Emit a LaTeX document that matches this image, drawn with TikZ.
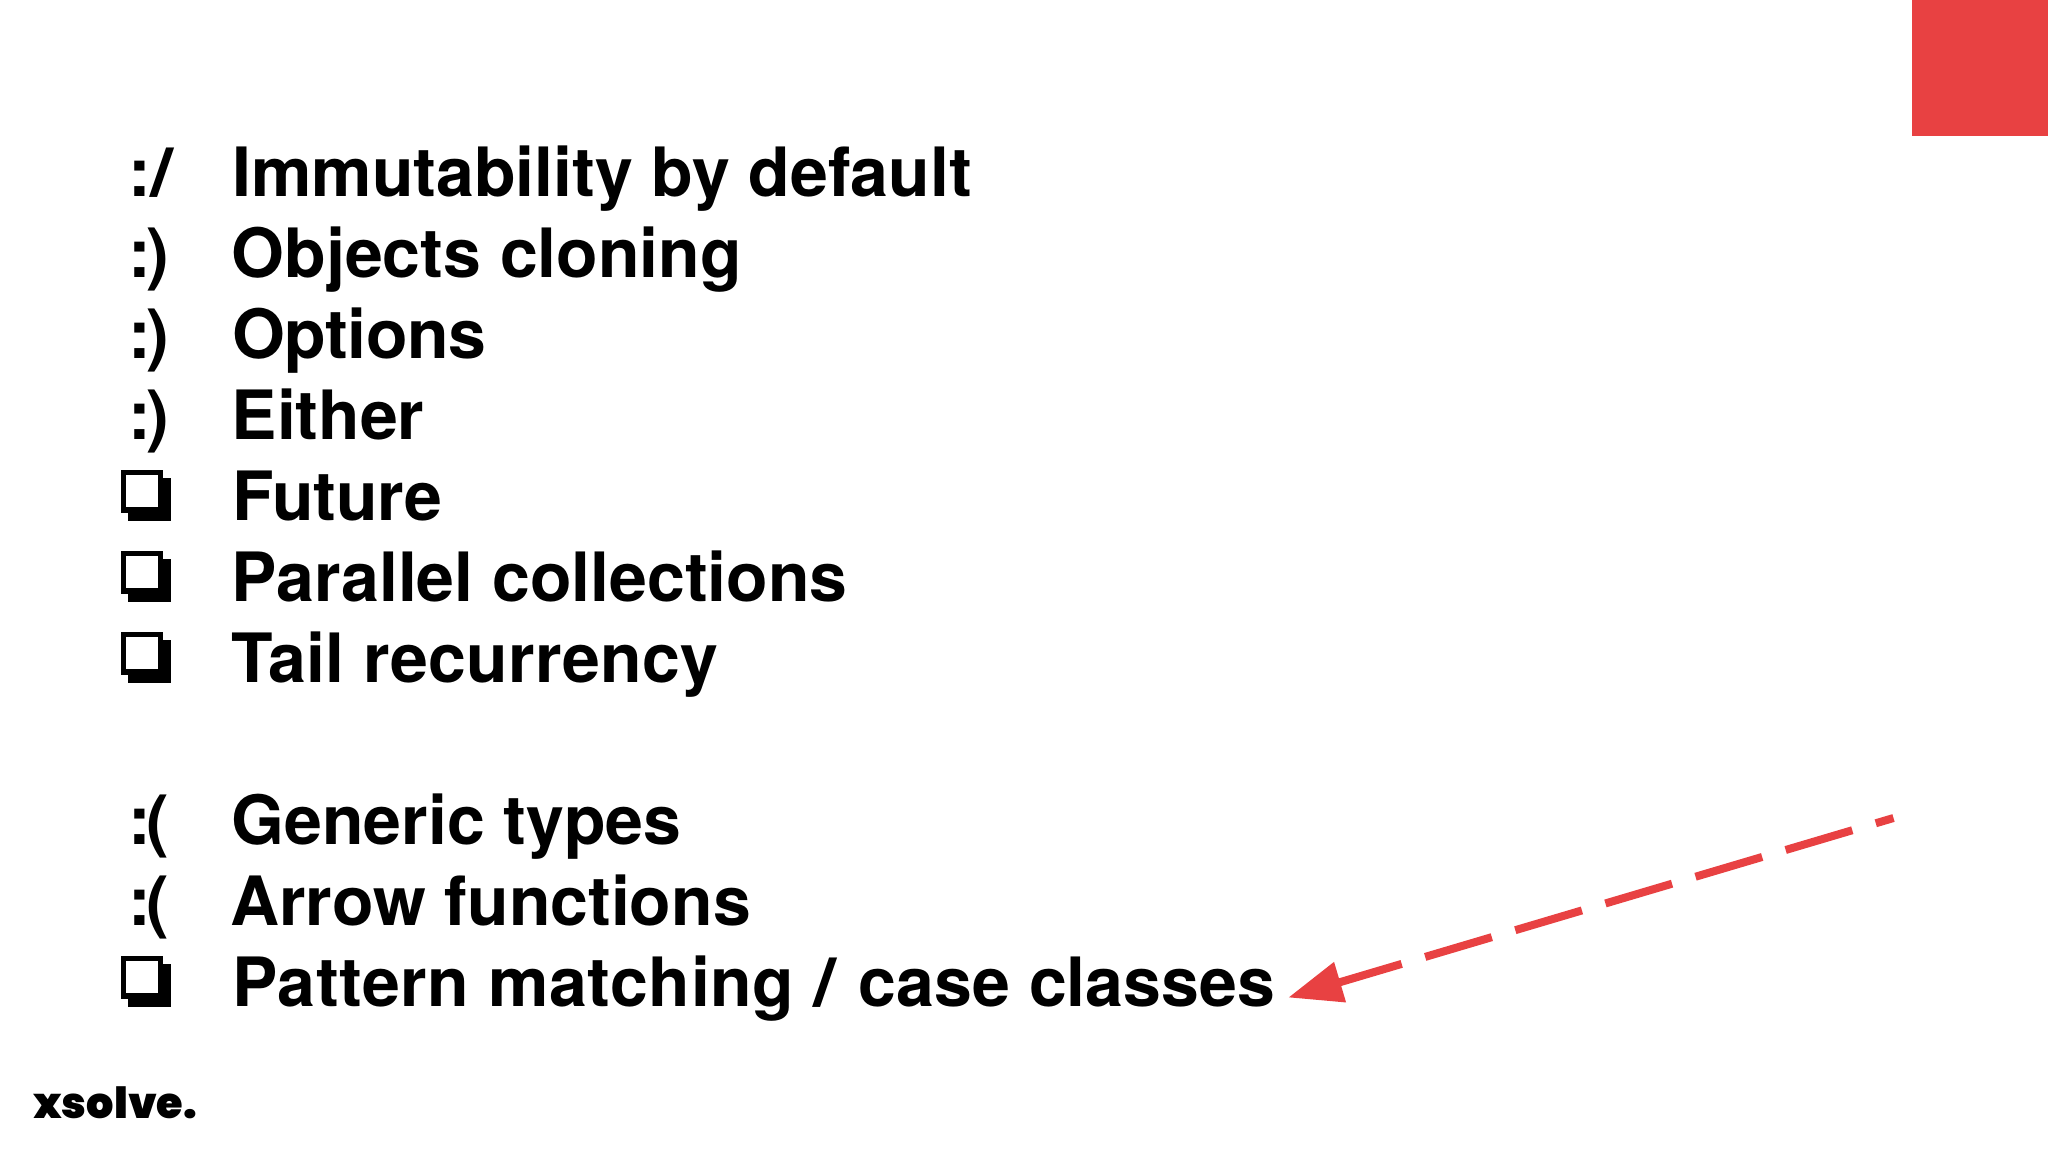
\documentclass[tikz,border=0pt]{standalone}
\usepackage{fontspec}
\setmainfont{TeX Gyre Heros}[BoldFont={TeX Gyre Heros Bold}]
\newfontfamily\logofont{Poppins Black}
\definecolor{accent}{HTML}{E84142}
\usetikzlibrary{arrows.meta}
\newcommand\wideslash{\scalebox{1.22}[1]{/}}
\newcommand\faceHappy{:\kern-4pt)}
\newcommand\faceSad{:\kern-4pt(}
\newcommand\faceFlat{:\wideslash}
\newcommand\track[2]{{\addfontfeature{LetterSpace=#1}#2}}
\tikzset{
 item/.style={anchor=base west,inner sep=0pt,font=\fontsize{68}{80}\selectfont\bfseries,text=black},
 pointer/.style={draw=accent,line width=8pt,dash pattern=on 69.5pt off 24.5pt,dash phase=51pt,-{Triangle[length=54pt,width=40pt,fill=accent]}},
}
\begin{document}
\begin{tikzpicture}[x=1pt,y=-1pt]
\useasboundingbox (0,0) rectangle (2048,1152);
\fill[accent] (1912,0) rectangle (2048,136);
\foreach \n/\y/\x/\m/\t in {a/196/232/\faceFlat/{Immutability by default},b/277/231.5/\faceHappy/Objects cloning,c/358/232/\faceHappy/{\track{-0.6}{Options}},d/439/231.5/\faceHappy/Either,g/844/231.5/\faceSad/Generic types,h/925/230/\faceSad/Arrow functions}{
 \node[item] (t\n) at (\x,\y) {\t};
 \node[item] (m\n) at (128,\y) {\m};
}
\foreach \n/\y/\x/\t in {e/520/232/Future,f/601/231.5/Parallel collections,i/682/231/{\track{0.5}{Tail recurrency}},j/1006/232/{\track{0.75}{Pattern matching}\ \kern1pt\wideslash\ \kern3pt case classes}}{
 \node[item] (t\n) at (\x,\y) {\t};
 \fill (121,\y-50) rectangle (163.3,\y-7.3);
 \fill (128,\y-42.3) rectangle (171,\y+0.7);
 \fill[white] (126,\y-44.7) rectangle (158.3,\y-13.3);
}
\node[anchor=base west,inner sep=0pt,font=\logofont\fontsize{43}{45}\selectfont] (logo) at (33,1118) {xsolve.};
\coordinate (from) at (1893.5,818);
\coordinate (to) at (1288.3,997.5);
\draw[pointer] (from) -- (to);
\end{tikzpicture}
\end{document}
